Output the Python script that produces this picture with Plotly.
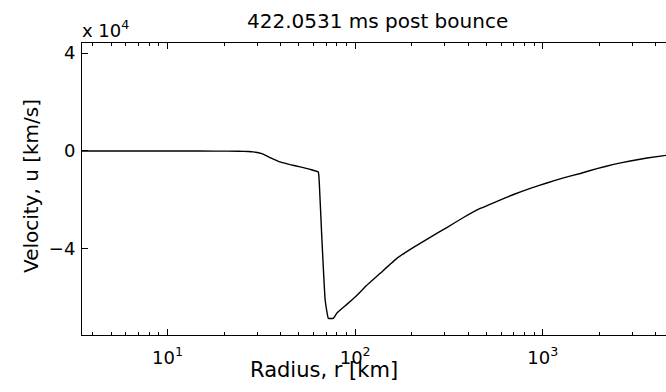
import plotly.graph_objects as go

# Data (radius in km, velocity in units of 1e4 km/s)
radius_km = [3.5, 5, 8, 12, 18, 24, 27, 28.6, 31.8, 35.2, 39.8, 45, 50.9, 57.5, 63.6,
             64.3, 66.4, 69.2, 72, 76.5, 80, 90, 100, 115, 136, 166.7, 204.6, 251, 308,
             378, 464, 570, 699, 858, 1051, 1290, 1585, 1945, 2387, 2929, 3594, 4560]
velocity_1e4 = [0, 0, 0, -0.003, -0.006, -0.012, -0.025, -0.04, -0.11, -0.27, -0.45, -0.56,
                -0.65, -0.75, -0.86, -1.2, -3.51, -6.09, -6.84, -6.84, -6.62, -6.28, -5.97,
                -5.5, -5.0, -4.39, -3.94, -3.53, -3.13, -2.72, -2.35, -2.06, -1.78, -1.53,
                -1.31, -1.10, -0.92, -0.72, -0.55, -0.41, -0.29, -0.18]

x_major_vals = [10, 100, 1000]
x_major_text = ["10<sup>1</sup>", "10<sup>2</sup>", "10<sup>3</sup>"]
x_minor_vals = [4, 5, 6, 7, 8, 9, 20, 30, 40, 50, 60, 70, 80, 90,
                200, 300, 400, 500, 600, 700, 800, 900, 2000, 3000, 4000]
y_tick_vals = [-4, 0, 4]
y_tick_text = ["\u22124", "0", "4"]

title_text = "422.0531 ms post bounce"
x_label = "Radius, r [km]"
y_label = "Velocity, u [km/s]"

FONT = "DejaVu Sans"

fig = go.Figure()
fig.add_trace(go.Scatter(x=radius_km, y=velocity_1e4, mode="lines",
                         line=dict(color="black", width=1.4, shape="spline", smoothing=0.3),
                         showlegend=False))

W, H = 666, 392
L, R, T, B = 82, 0, 43, 57
pw, ph = W - L - R, H - T - B

def px(x):
    return (x - L) / pw

def py(y):
    return (H - B - y) / ph

fig.update_layout(
    width=W, height=H,
    margin=dict(l=L, r=R, t=T, b=B),
    paper_bgcolor="white", plot_bgcolor="white",
    font=dict(family=FONT, color="black", size=18),
    xaxis=dict(type="log", range=[0.544, 3.657],
               tickmode="array", tickvals=x_major_vals, ticktext=x_major_text,
               ticks="inside", ticklen=6, tickwidth=1, tickcolor="black",
               showline=True, linecolor="black", linewidth=1, mirror="ticks",
               showgrid=False, zeroline=False,
               tickfont=dict(family=FONT, size=18),
               ticklabelstandoff=6,
               minor=dict(tickmode="array", tickvals=x_minor_vals, ticks="inside",
                          ticklen=3, tickwidth=1, tickcolor="black", showgrid=False)),
    yaxis=dict(range=[-7.52, 4.41],
               tickmode="array", tickvals=y_tick_vals, ticktext=y_tick_text,
               ticks="inside", ticklen=6, tickwidth=1, tickcolor="black",
               showline=True, linecolor="black", linewidth=1, mirror=False,
               showgrid=False, zeroline=False,
               tickfont=dict(family=FONT, size=18),
               ticklabelstandoff=2),
    annotations=[
        dict(text=title_text, xref="paper", yref="paper", x=px(377), y=py(21),
             xanchor="center", yanchor="middle", showarrow=False,
             font=dict(family=FONT, size=20)),
        dict(text=x_label, xref="paper", yref="paper", x=px(324), y=py(370),
             xanchor="center", yanchor="middle", showarrow=False,
             font=dict(family=FONT, size=21)),
        dict(text=y_label, xref="paper", yref="paper", x=px(31), y=py(186),
             xanchor="center", yanchor="middle", showarrow=False, textangle=-90,
             font=dict(family=FONT, size=20)),
        dict(text="x 10<sup>4</sup>", xref="paper", yref="paper", x=px(80), y=py(29),
             xanchor="left", yanchor="middle", showarrow=False,
             font=dict(family=FONT, size=18)),
    ],
)

fig.write_html("out.html")
